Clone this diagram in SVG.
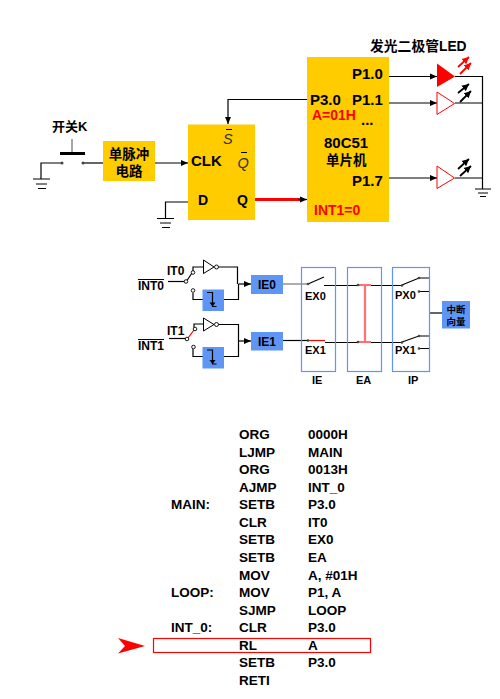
<svg xmlns="http://www.w3.org/2000/svg" width="500" height="699" viewBox="0 0 500 699">
<style>
text{font-family:"Liberation Sans","Noto Sans CJK SC",sans-serif;fill:#000;font-weight:bold}
.m{text-anchor:middle}
.w{fill:none;stroke:#000;stroke-width:1.2}
.g{fill:none;stroke:#000;stroke-width:1}
.y{fill:#ffcc00}
.b{fill:#5f96f5}
.f{fill:none;stroke:#5f96f5;stroke-width:1.2}
.c{fill:#fff;stroke:#000;stroke-width:.9}
.d{fill:#444}
.p{fill:none;stroke:#ff7070;stroke-width:2.2}
.led{fill:#fff;stroke:#f00;stroke-width:1}
.code{font-size:13.5px}
.s12{font-size:12px}.s11{font-size:11px}.s15{font-size:15px}.s14{font-size:14px}
.ray{fill:none;stroke:#000;stroke-width:1.800}
.rayr{fill:none;stroke:#f00;stroke-width:1.800}
.it{font-style:italic;font-weight:normal;fill:#333;font-size:14.500px}
</style>
<defs>
<marker id="a" markerUnits="userSpaceOnUse" markerWidth="8" markerHeight="8" refX="7" refY="4" orient="auto"><path d="M0,1 L7,4 L0,7 Z" fill="#000"/></marker>
<marker id="ak" markerUnits="userSpaceOnUse" markerWidth="8" markerHeight="8" refX="7" refY="4" orient="auto"><path d="M0,0.500 L7,4 L0,7.500 Z" fill="#000"/></marker>
<marker id="ar" markerUnits="userSpaceOnUse" markerWidth="8" markerHeight="8" refX="7" refY="4" orient="auto"><path d="M0,0.500 L7,4 L0,7.500 Z" fill="#f00"/></marker>
</defs>

<g id="connectors">
<path class="w" d="M62,163H41V179"/>
<path class="w" d="M83,163H103"/>
<path class="w" d="M155,163H188" marker-end="url(#a)"/>
<path class="w" d="M307,99.500H228V124" marker-end="url(#a)"/>
<path class="w" d="M188,202H165.500V218"/>
<path d="M255,199.500H300" fill="none" stroke="#f00" stroke-width="3"/>
<path class="w" d="M298,199.500H307" marker-end="url(#a)"/>
<path class="w" d="M389,76.500H437" marker-end="url(#a)"/>
<path class="w" d="M389,103H437" marker-end="url(#a)"/>
<path class="w" d="M389,178H437" marker-end="url(#a)"/>
<path class="w" d="M455,76.500H482.500V189M455,103H482.500M455,178H482.500"/>
<path class="g" d="M33,179H50M36,184H47M38,188.500H46"/>
<path class="g" d="M157,218.500H174M160,223H171M162,227.500H170"/>
<path class="g" d="M475,189H491M478,193H488M480,196.500H486"/>

<path class="w" d="M168,281.500H185"/>
<path class="w" d="M187,280.500L192,273"/>
<path class="w" d="M193,271V267H203"/>
<path class="w" d="M193,293V299.500H203"/>
<path class="w" d="M218,267H237.500V284"/>
<path class="w" d="M224,299.500H238.500V284"/>
<path class="w" d="M238.500,284H251" marker-end="url(#a)"/>
<path d="M283,284H308" fill="none" stroke="#777" stroke-width="1.2"/>

<path class="w" d="M169,338.500H186"/>
<path d="M188,338L194,330" fill="none" stroke="#f00" stroke-width="1.2"/>
<path class="w" d="M194,327.500V324H203"/>
<path class="w" d="M193,349V356.500H203"/>
<path class="w" d="M218,324.500H238.500V356.500H224"/>
<path class="w" d="M238.500,341H251" marker-end="url(#a)"/>
<path class="w" d="M283,340.500H308"/>

<path class="w" d="M308,284L324,277"/>
<path class="w" d="M324,285.500H402"/>
<path d="M308,340.500H325" fill="none" stroke="#f00" stroke-width="1.2"/>
<path class="w" d="M325,342.500H402"/>
<path class="p" d="M358,285H371M365,285V342M358,342H371"/>
<path class="w" d="M402,285L419,278H429M419,291.500H429"/>
<path class="w" d="M402,342L419,336H429M419,348.500H429"/>
<path class="w" d="M429,313H442"/>
<circle class="d" cx="308" cy="284" r="1.300"/>
<circle class="d" cx="308" cy="340.500" r="1.300"/>
<circle class="d" cx="358" cy="285" r="1.300"/>
<circle class="d" cx="358" cy="342" r="1.300"/>
<circle class="d" cx="402" cy="285.500" r="1.300"/>
<circle class="d" cx="419" cy="278" r="1.300"/>
<circle class="d" cx="419" cy="291.500" r="1.300"/>
<circle class="d" cx="402" cy="342.500" r="1.300"/>
<circle class="d" cx="419" cy="336" r="1.300"/>
<circle class="d" cx="419" cy="348.500" r="1.300"/>
</g>

<g id="switch-k">
<text x="52" y="131" font-size="13">开关K</text>
<path d="M72,139V153" stroke="#777" stroke-width="1.300" fill="none"/>
<path d="M60,153.500H85" stroke="#000" stroke-width="3" fill="none"/>
<circle class="d" cx="62" cy="163" r="1.500"/><circle class="d" cx="83" cy="163" r="1.500"/>
</g>

<g id="pulse">
<rect class="y" x="103" y="141" width="52" height="40"/>
<text class="m" x="129" y="159" font-size="13.500">单脉冲</text>
<text class="m" x="129" y="176" font-size="13.500">电路</text>
</g>

<g id="flipflop">
<rect class="y" x="188" y="124.500" width="67" height="95.500"/>
<text class="s15" x="191" y="166">CLK</text>
<text class="s14" x="198" y="205">D</text>
<text class="s14" x="237" y="205">Q</text>
<text class="it" x="223" y="144">S</text>
<path d="M226,129.500H232" stroke="#000" stroke-width="1" fill="none"/>
<text class="it" x="237.500" y="167.500">Q</text>
<path d="M241,152.500H247" stroke="#000" stroke-width="1" fill="none"/>
</g>

<g id="mcu">
<rect class="y" x="307" y="57" width="82" height="165"/>
<text class="s15" x="352" y="79">P1.0</text>
<text class="s15" x="310" y="105">P3.0</text>
<text class="s15" x="352" y="105">P1.1</text>
<text class="s14" style="fill:#f00" x="312" y="120">A=01H</text>
<text class="s15" x="361" y="125">...</text>
<text class="s15" x="324" y="148">80C51</text>
<text x="326" y="165" font-size="13.500">单片机</text>
<text class="s15" x="352" y="186">P1.7</text>
<text class="s14" style="fill:#f00" x="314" y="215">INT1=0</text>
</g>

<g id="led-title"><text x="370" y="51" font-size="13.800">发光二极管LED</text></g>

<g id="led0">
<path d="M437,63.500L455,76.500L437,87Z" fill="#f00"/>
<path class="rayr" d="M458,67L469,57" marker-end="url(#ar)"/>
<path class="rayr" d="M460,74L471,63" marker-end="url(#ar)"/>
</g>
<g id="led1">
<path class="led" d="M437,92L454.500,103.500L437,114.500Z"/>
<path class="ray" d="M458,93L469,84" marker-end="url(#ak)"/>
<path class="ray" d="M460,102L471,91" marker-end="url(#ak)"/>
</g>
<g id="led7">
<path class="led" d="M437,166L454.500,178L437,188.500Z"/>
<path class="ray" d="M458,169L469,159" marker-end="url(#ak)"/>
<path class="ray" d="M460,176L471,166" marker-end="url(#ak)"/>
</g>

<g id="int0">
<text class="s12" x="167" y="274.500">IT0</text>
<text class="s12" x="138" y="289.500">INT0</text>
<path d="M138,279.500H164" stroke="#000" stroke-width="1" fill="none"/>
<circle class="c" cx="186" cy="281.500" r="1.800"/><circle class="c" cx="193" cy="272.500" r="1.800"/><circle class="c" cx="193" cy="290.500" r="1.800"/>
<path d="M203.500,260L203.500,273.500L214,267Z" fill="#fff" stroke="#000" stroke-width="1"/>
<circle class="c" cx="216.500" cy="267" r="2"/>
<rect class="b" x="202.500" y="289.500" width="21.500" height="21.500"/>
<path class="g" d="M207,292.500H212.500V306.500H216.500" style="stroke-width:1.200"/>
<path d="M209.500,302.500H215.500L212.500,306.500Z" fill="#000"/>
</g>
<g id="ie0"><rect class="b" x="251" y="275" width="32" height="19"/><text class="s12 m" x="267" y="288.500">IE0</text></g>

<g id="int1">
<text class="s12" x="167" y="334.500">IT1</text>
<text class="s12" x="138" y="349.500">INT1</text>
<path d="M138,339.500H164" stroke="#000" stroke-width="1" fill="none"/>
<circle class="c" cx="187" cy="339" r="1.800"/><circle class="c" cx="195" cy="329" r="1.800"/><circle class="c" cx="193.500" cy="347" r="1.800"/>
<path d="M203.500,318L203.500,331L214,324.500Z" fill="#fff" stroke="#000" stroke-width="1"/>
<circle class="c" cx="216.500" cy="324.500" r="2"/>
<rect class="b" x="202.500" y="347" width="21.500" height="21.500"/>
<path class="g" d="M207,350H212.500V364H216.500" style="stroke-width:1.200"/>
<path d="M209.500,360H215.500L212.500,364Z" fill="#000"/>
</g>
<g id="ie1"><rect class="b" x="251" y="332" width="32" height="18.500"/><text class="s12 m" x="267" y="345.500">IE1</text></g>

<g id="ie-frame">
<rect class="f" x="301.500" y="267.500" width="34" height="104"/>
<text class="s11" x="305" y="300">EX0</text><text class="s11" x="305" y="354">EX1</text>
<text class="s11" x="312" y="384">IE</text>
</g>
<g id="ea-frame">
<rect class="f" x="347.500" y="267.500" width="34" height="104"/>
<text class="s11" x="356" y="384">EA</text>
</g>
<g id="ip-frame">
<rect class="f" x="392.500" y="267.500" width="37" height="104"/>
<text class="s11" x="395" y="299">PX0</text><text class="s11" x="395" y="354">PX1</text>
<text class="s11" x="408" y="384">IP</text>
</g>
<g id="vector">
<rect class="b" x="442" y="301" width="28" height="27.500"/>
<text class="m" x="456" y="313" font-size="9.500">中断</text>
<text class="m" x="456" y="325" font-size="9.500">向量</text>
</g>

<g id="code" class="code" transform="translate(0,-0.6)">
<text x="239" y="440">ORG</text><text x="308" y="440">0000H</text>
<text x="239" y="458">LJMP</text><text x="308" y="458">MAIN</text>
<text x="239" y="475">ORG</text><text x="308" y="475">0013H</text>
<text x="239" y="493">AJMP</text><text x="308" y="493">INT_0</text>
<text x="171" y="510">MAIN:</text><text x="239" y="510">SETB</text><text x="308" y="510">P3.0</text>
<text x="239" y="528">CLR</text><text x="308" y="528">IT0</text>
<text x="239" y="545">SETB</text><text x="308" y="545">EX0</text>
<text x="239" y="563">SETB</text><text x="308" y="563">EA</text>
<text x="239" y="581">MOV</text><text x="308" y="581">A, #01H</text>
<text x="171" y="598">LOOP:</text><text x="239" y="598">MOV</text><text x="308" y="598">P1, A</text>
<text x="239" y="616">SJMP</text><text x="308" y="616">LOOP</text>
<text x="171" y="633">INT_0:</text><text x="239" y="633">CLR</text><text x="308" y="633">P3.0</text>
<text x="239" y="651">RL</text><text x="308" y="651">A</text>
<text x="239" y="668">SETB</text><text x="308" y="668">P3.0</text>
<text x="239" y="686">RETI</text>
</g>
<g id="highlight">
<rect x="153.500" y="638.500" width="217" height="14" fill="none" stroke="#f00" stroke-width="1.200"/>
<path d="M118,638L145,646L118,653.500L125,646Z" fill="#f00"/>
</g>
</svg>
